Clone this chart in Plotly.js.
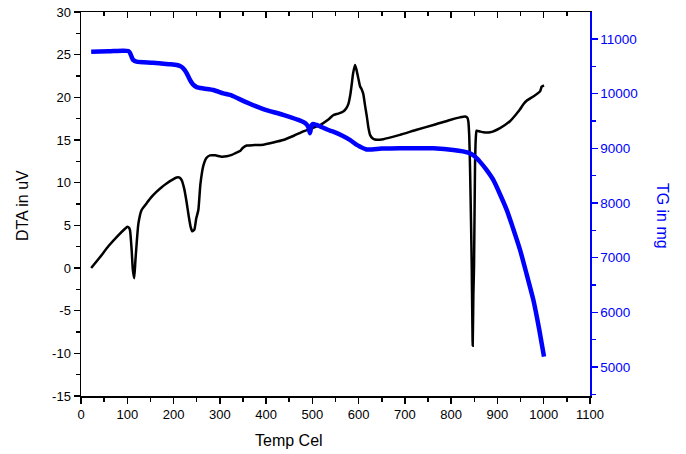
<!DOCTYPE html>
<html>
<head>
<meta charset="utf-8">
<script src="https://cdn.plot.ly/plotly-3.0.1.min.js"></script>
<style>html,body{margin:0;padding:0;background:#fff;}#chart{width:686px;height:454px;}</style>
</head>
<body>
<div id="chart"></div>
<script>
const dtaTemp = [22,40,60,80,95,100,104,106,109.5,112,115,117.5,120.3,124,131,142,152,163.5,175,185,196,206.8,213,217.5,223,228,233,237,240.6,245,249,253.6,258,264.4,271,278.8,290,304,315,325.7,335,343.6,350,358,375,394,415,437,460,480.5,500,516.5,534.6,545,556,566.9,573,577.7,582,585,588,592.2,595,599.4,603,606,610,614,617.6,621,624.7,630,635.5,653.3,689,725.5,761.5,797.5,819,830,835,837,839,840.7,843,844.4,846.5,848,849.4,851.5,853,855,862,869.5,884,905.5,927,941.6,948.8,956,963,977.5,992,995.6,1000.6];
const dtaValue = [0,1.2,2.6,3.8,4.6,4.84,4.7,4.4,2.1,-0.2,-1.2,0.8,2.9,5.2,6.8,7.6,8.3,8.95,9.5,9.9,10.3,10.6,10.6,10.3,9.3,7.8,6.0,4.8,4.3,4.5,5.8,6.8,9.8,12.0,12.9,13.2,13.2,13.05,13.1,13.25,13.5,13.7,14.1,14.35,14.4,14.45,14.7,15.0,15.5,16.0,16.4,16.75,17.4,17.9,18.1,18.35,18.7,19.2,20.3,21.5,22.8,23.8,23.3,22.2,21.3,21.0,20.4,19.0,17.8,16.5,15.6,15.2,15.05,15.1,15.6,16.2,16.75,17.35,17.65,17.75,17.6,17.2,15.5,11.9,5.0,0.2,-9.1,-3.0,0.2,11.9,15.0,16.1,16.0,15.9,15.9,16.4,17.2,18.1,18.6,19.2,19.6,20.1,20.7,21.25,21.4];

const tgTemp = [22,60,90,102,106,110,113,120,156,190,206.8,214,221,228,235.6,242,250,265,286,307.5,322,340,358,394,437,477,485,491,494.9,498.6,502,509,538,545,565,581,596,603,617.5,650,689,761.5,804.6,837,850,862,876,891,905,920,934,948.8,963,977.5,990,1000.6];
const tgValue = [10765,10775,10785,10780,10745,10660,10616,10585,10567,10540,10525,10506,10464,10380,10250,10170,10120,10095,10068,10007,9976,9910,9840,9718,9611,9495,9460,9397,9276,9428,9446,9428,9324,9306,9230,9154,9062,9031,8980,8995,9002,9000,8971,8922,8860,8757,8610,8422,8170,7874,7530,7143,6700,6229,5700,5192];

const xTicks = [0,100,200,300,400,500,600,700,800,900,1000,1100];
const yTicks = [-15,-10,-5,0,5,10,15,20,25,30];
const y2Ticks = [5000,6000,7000,8000,9000,10000,11000];

const FONT = 'Liberation Sans, Arial, sans-serif';
const BLUE = '#0000ff';

const traces = [
  {x: tgTemp, y: tgValue, yaxis: 'y2', mode: 'lines', line: {color: BLUE, width: 4.5, shape: 'spline', smoothing: 0.6}, hoverinfo: 'skip'},
  {x: dtaTemp, y: dtaValue, mode: 'lines', line: {color: '#000000', width: 2.5, shape: 'spline', smoothing: 0.5}, hoverinfo: 'skip'},
  {x: [null], y: [null], xaxis: 'x2', mode: 'lines', showlegend: false, hoverinfo: 'skip'}
];

const layout = {
  width: 686, height: 454,
  margin: {l: 81, r: 96, t: 12, b: 58},
  paper_bgcolor: '#ffffff', plot_bgcolor: '#ffffff',
  showlegend: false,
  font: {family: FONT, size: 13, color: '#000'},
  xaxis: {
    range: [0, 1100], tickvals: xTicks, ticktext: xTicks.map(String),
    showgrid: false, zeroline: false, showline: true, linecolor: '#000', linewidth: 1.5,
    ticks: 'outside', ticklen: 6, tickwidth: 1.5, tickcolor: '#000',
    minor: {dtick: 50, tick0: 0, ticks: 'outside', ticklen: 4, tickwidth: 1.5, tickcolor: '#000', showgrid: false},
    tickfont: {family: FONT, size: 13, color: '#000'}
  },
  xaxis2: {
    overlaying: 'x', side: 'top', range: [0, 1100], tickvals: xTicks,
    showticklabels: false, showgrid: false, zeroline: false, showline: true, linecolor: '#000', linewidth: 1.5,
    ticks: 'inside', ticklen: 6, tickwidth: 1.5, tickcolor: '#000',
    minor: {dtick: 50, tick0: 0, ticks: 'inside', ticklen: 4, tickwidth: 1.5, tickcolor: '#000', showgrid: false}
  },
  yaxis: {
    range: [-15, 30], tickvals: yTicks, ticktext: yTicks.map(String),
    showgrid: false, zeroline: false, showline: true, linecolor: '#000', linewidth: 1.5,
    ticks: 'outside', ticklen: 6, tickwidth: 1.5, tickcolor: '#000',
    minor: {dtick: 2.5, tick0: 0, ticks: 'outside', ticklen: 4, tickwidth: 1.5, tickcolor: '#000', showgrid: false},
    tickfont: {family: FONT, size: 13, color: '#000'}
  },
  yaxis2: {
    overlaying: 'y', side: 'right', range: [4470, 11494], tickvals: y2Ticks, ticktext: y2Ticks.map(String),
    showgrid: false, zeroline: false, showline: true, linecolor: BLUE, linewidth: 1.5,
    ticks: 'outside', ticklen: 6, tickwidth: 1.5, tickcolor: BLUE,
    minor: {dtick: 500, tick0: 0, ticks: 'outside', ticklen: 4, tickwidth: 1.5, tickcolor: BLUE, showgrid: false},
    tickfont: {family: FONT, size: 13.5, color: BLUE}
  },
  annotations: [
    {text: 'Temp Cel', xref: 'paper', yref: 'paper', x: 0.409, y: -0.1146, xanchor: 'center', yanchor: 'middle', showarrow: false, font: {family: FONT, size: 16, color: '#000'}},
    {text: 'DTA in uV', xref: 'paper', yref: 'paper', x: -0.116, y: 0.497, xanchor: 'center', yanchor: 'middle', textangle: -90, showarrow: false, font: {family: FONT, size: 16, color: '#000'}},
    {text: 'TG in mg', xref: 'paper', yref: 'paper', x: 1.1415, y: 0.469, xanchor: 'center', yanchor: 'middle', textangle: 90, showarrow: false, font: {family: FONT, size: 16, color: BLUE}}
  ]
};

Plotly.newPlot('chart', traces, layout, {staticPlot: true, displayModeBar: false});
</script>
</body>
</html>
